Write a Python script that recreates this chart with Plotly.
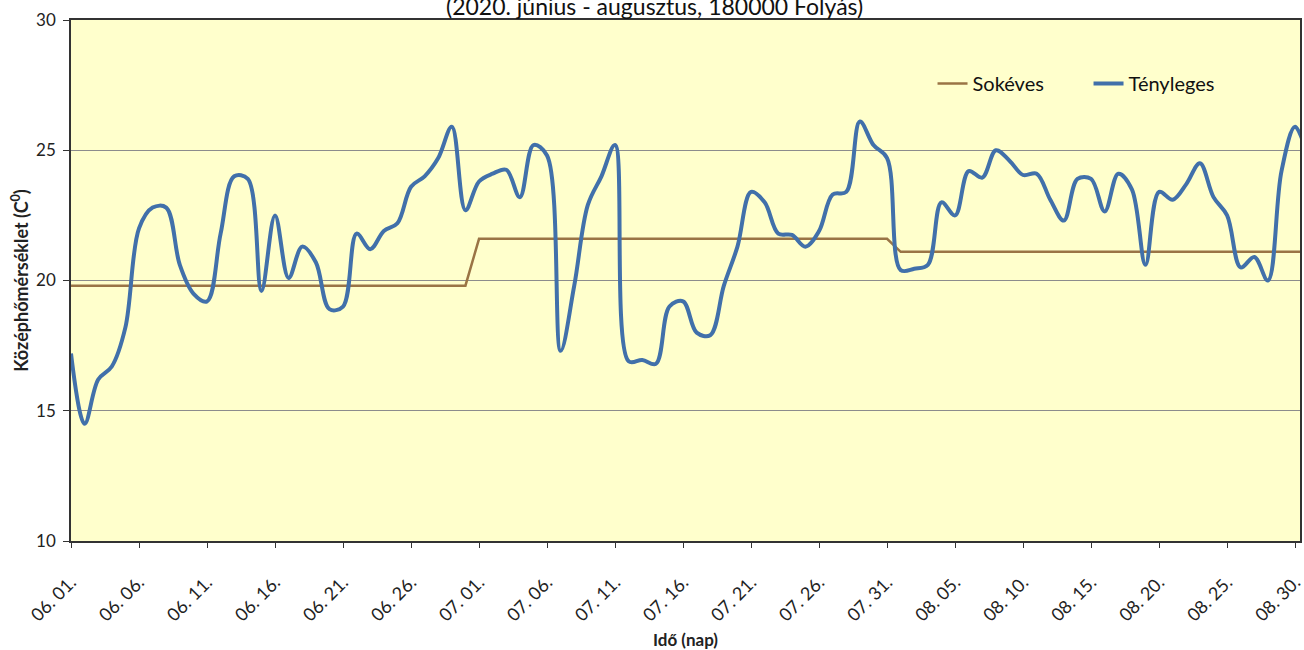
import plotly.graph_objects as go
import pandas as pd

# Daily axis labels, 06.01. - 08.31.
dates = [d.strftime("%m. %d.") for d in pd.date_range("2020-06-01", "2020-08-31")]

# Measured daily mean temperature (°C)
actual_june = [17.2, 14.5, 16.2, 16.7, 18.2, 22.0, 22.8, 22.8, 20.6, 19.5,
               19.2, 21.8, 24.0, 23.9, 19.6, 22.5, 20.1, 21.3, 20.7, 18.9,
               19.0, 21.8, 21.2, 21.9, 22.2, 23.6, 24.0, 24.7, 25.9, 22.7]
actual_july = [23.8, 24.1, 24.25, 23.2, 25.2, 24.8, 17.3, 19.8, 22.9, 24.0,
               25.2, 16.9, 16.95, 16.8, 19.0, 19.2, 18.0, 17.9, 19.8, 21.3,
               23.4, 23.0, 21.8, 21.75, 21.3, 21.9, 23.3, 23.4, 26.1, 25.2,
               24.7]
actual_aug = [20.4, 20.45, 20.6, 23.0, 22.5, 24.2, 23.95, 25.0, 24.6, 24.05,
              24.1, 23.1, 22.3, 23.9, 23.9, 22.65, 24.1, 23.5, 20.6, 23.4,
              23.1, 23.7, 24.5, 23.2, 22.5, 20.5, 20.9, 20.0, 24.2, 25.9,
              24.6]
actual = actual_june + actual_july + actual_aug

# Long-term monthly means (°C)
longterm_monthly = {"06": 19.8, "07": 21.6, "08": 21.1}
longterm = [longterm_monthly[d[:2]] for d in dates]

tick_step = 5
tick_vals = dates[::tick_step]

fig = go.Figure()
fig.add_trace(go.Scatter(
    x=dates, y=longterm, name="Sokéves", mode="lines",
    line=dict(color="#9a7445", width=2.5)))
fig.add_trace(go.Scatter(
    x=dates, y=actual, name="Tényleges", mode="lines",
    line=dict(color="#4170aa", width=4, shape="spline", smoothing=1.0)))

font_family = "Lato, 'Open Sans', sans-serif"

fig.update_layout(
    width=1304, height=650,
    margin=dict(l=71, r=0, t=20, b=109),
    paper_bgcolor="white",
    plot_bgcolor="#ffffcc",
    font=dict(family=font_family, size=17, color="#222222"),
    showlegend=True,
    legend=dict(orientation="h", x=0.701, y=0.878, xanchor="left", yanchor="middle",
                bgcolor="rgba(0,0,0,0)", font=dict(size=20, color="#111111"),
                entrywidth=111, entrywidthmode="pixels"),
    xaxis=dict(
        type="category", range=[0, 90.36],
        tickmode="array", tickvals=tick_vals, ticktext=tick_vals,
        tickangle=-45, ticks="outside", ticklen=5, tickcolor="#333333",
        ticklabelstandoff=17,
        showgrid=False, showline=True, linecolor="#333333", linewidth=1.5,
        mirror=True, tickfont=dict(size=18),
        title=dict(text="<b>Idő (nap)</b>", font=dict(size=17), standoff=12),
    ),
    yaxis=dict(
        range=[10, 30], dtick=5, ticks="outside", ticklen=6, tickcolor="#333333",
        ticklabelstandoff=4,
        showgrid=True, gridcolor="#8c8c8c", gridwidth=1,
        showline=True, linecolor="#333333", linewidth=1.5, mirror=True,
        zeroline=False, tickfont=dict(size=17),
        title=dict(text="<b>Középhőmérséklet (C<sup>0</sup>)</b>", font=dict(size=18), standoff=3),
    ),
)

fig.add_annotation(
    text="(2020. június - augusztus, 180000 Folyás)",
    xref="paper", yref="paper", x=0.475, y=1.0, yshift=14,
    xanchor="center", yanchor="middle", showarrow=False,
    font=dict(size=23, color="#111111"))

fig.write_html("out.html")
